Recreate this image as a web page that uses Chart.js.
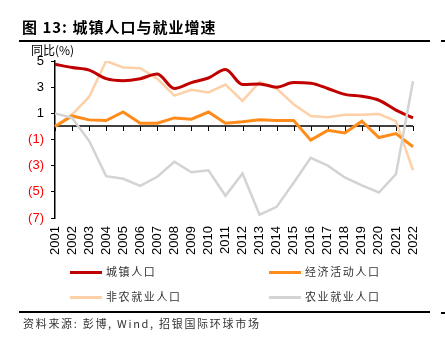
<!DOCTYPE html>
<html>
<head>
<meta charset="utf-8">
<script src="https://cdn.jsdelivr.net/npm/chart.js@4/dist/chart.umd.min.js"></script>
<style>
  html, body { margin: 0; padding: 0; background: #fff; }
  #wrap { position: relative; width: 445px; height: 356px; overflow: hidden; }
  #c { position: absolute; left: 0; top: 0; }
  .t { position: absolute; white-space: nowrap; }
  #title { left: 22px; top: 16px; font: bold 15px "Noto Sans CJK SC", "Liberation Sans", sans-serif; letter-spacing: 1px; color: #000; }
  #unit { left: 31px; top: 41px; font: 12px "Noto Sans CJK SC", sans-serif; color: #000; }
  .rule { position: absolute; background: #000; height: 2px; }
  .leg { position: absolute; height: 3px; width: 32px; }
  .legt { position: absolute; font: 11px "Noto Sans CJK SC", sans-serif; letter-spacing: 1.6px; color: #333; }
  #src { left: 23px; top: 315px; font: 11px "Noto Sans CJK SC", sans-serif; letter-spacing: 1.7px; color: #333; }
</style>
</head>
<body>
<div id="wrap">
  <canvas id="c" width="445" height="356"></canvas>
  <div class="t" id="title">图 13: 城镇人口与就业增速</div>
  <div class="rule" style="left:19px; top:40px; width:411px;"></div>
  <div class="rule" style="left:441px; top:40px; width:4px;"></div>
  <div class="t" id="unit">同比(%)</div>
  <div id="legend"></div>
  <div class="rule" style="left:19px; top:311px; width:411px;"></div>
  <div class="rule" style="left:441px; top:312px; width:4px;"></div>
  <div class="t" id="src">资料来源: 彭博, Wind, 招银国际环球市场</div>
</div>
<script>
const years = ["2001","2002","2003","2004","2005","2006","2007","2008","2009","2010","2011",
               "2012","2013","2014","2015","2016","2017","2018","2019","2020","2021","2022"];
const seriesNames = ["城镇人口", "经济活动人口", "非农就业人口", "农业就业人口"];
const urbanPop = [4.75, 4.5, 4.3, 3.65, 3.5, 3.65, 4.0, 2.9, 3.35, 3.7, 4.35,
                  3.2, 3.25, 3.0, 3.35, 3.3, 2.9, 2.45, 2.3, 2.0, 1.25, 0.65];
const econActive = [0.0, 0.8, 0.5, 0.45, 1.1, 0.25, 0.25, 0.65, 0.55, 1.1, 0.25,
                    0.35, 0.5, 0.45, 0.45, -1.05, -0.3, -0.5, 0.4, -0.85, -0.55, -1.55];
const nonFarm = [0.0, 0.9, 2.25, 5.0, 4.5, 4.45, 3.65, 2.35, 2.8, 2.6, 3.2,
                 1.95, 3.4, 2.9, 1.7, 0.8, 0.7, 0.9, 0.9, 0.95, 0.4, -3.35];
const farm = [1.0, 0.65, -1.1, -3.8, -4.0, -4.55, -3.85, -2.7, -3.5, -3.35, -5.3,
              -3.6, -6.75, -6.15, -4.3, -2.4, -3.0, -3.9, -4.5, -5.05, -3.65, 3.45];
const yTicks = [5, 3, 1, -1, -3, -5, -7];

const colors = ["#C00000", "#FF8C1A", "#FDD0A8", "#D3D3D3"];

// HTML legend
const legPos = [[70, 272], [269, 272], [70, 297], [269, 297]];
const legDiv = document.getElementById('legend');
seriesNames.forEach((n, i) => {
  const l = document.createElement('div');
  l.className = 'leg';
  l.style.left = legPos[i][0] + 'px';
  l.style.top = (legPos[i][1] - 1) + 'px';
  l.style.background = colors[i];
  legDiv.appendChild(l);
  const t = document.createElement('div');
  t.className = 'legt';
  t.textContent = n;
  t.style.left = (legPos[i][0] + 36) + 'px';
  t.style.top = (legPos[i][1] - 9) + 'px';
  legDiv.appendChild(t);
});

const zeroAxis = {
  id: 'zeroAxis',
  beforeDatasetsDraw(chart) {
    const {ctx, chartArea, scales} = chart;
    const y0 = Math.round(scales.y.getPixelForValue(0));
    ctx.save();
    ctx.strokeStyle = '#000';
    ctx.lineWidth = 1.5;
    ctx.beginPath();
    ctx.moveTo(chartArea.left, y0);
    ctx.lineTo(chartArea.right, y0);
    ctx.stroke();
    ctx.lineWidth = 1;
    ctx.beginPath();
    years.forEach((y, i) => {
      const x = Math.round(scales.x.getPixelForValue(i)) + 0.5;
      ctx.moveTo(x, y0);
      ctx.lineTo(x, y0 + 5);
    });
    ctx.stroke();
    ctx.restore();
  }
};

const mk = (i, data, w, extra) => Object.assign({
  label: seriesNames[i], data, borderColor: colors[i], backgroundColor: colors[i],
  borderWidth: w, pointRadius: 0, tension: 0, fill: false
}, extra || {});

new Chart(document.getElementById('c'), {
  type: 'line',
  data: {
    labels: years,
    datasets: [
      mk(0, urbanPop, 3, {cubicInterpolationMode: 'monotone', order: 2}),
      mk(1, econActive, 3, {order: 3}),
      mk(2, nonFarm, 2.5, {order: 4}),
      mk(3, farm, 2.5, {order: 1})
    ]
  },
  options: {
    responsive: false,
    animation: false,
    devicePixelRatio: 1,
    layout: { padding: { left: 5, right: 32, top: 61, bottom: 0 } },
    plugins: { legend: { display: false }, tooltip: { enabled: false } },
    scales: {
      x: {
        offset: false,
        border: { display: false },
        grid: { display: false, drawTicks: false },
        ticks: {
          autoSkip: false, minRotation: 90, maxRotation: 90, padding: 8,
          color: '#000', font: { family: 'Liberation Sans', size: 13 }
        },
        afterFit(s) { s.height = 138; }
      },
      y: {
        min: -7, max: 5,
        border: { display: true, color: '#000', width: 1.5 },
        grid: { drawOnChartArea: false, drawTicks: true, tickLength: 4, color: '#000' },
        afterBuildTicks(s) { s.ticks = yTicks.map(v => ({ value: v })); },
        ticks: {
          padding: 7,
          font: { family: 'Liberation Sans', size: 13 },
          color: c => (c.tick && c.tick.value < 0) ? '#FF0000' : '#000',
          callback: v => v < 0 ? '(' + (-v) + ')' : String(v)
        },
        afterFit(s) { s.width = 50; }
      }
    }
  },
  plugins: [zeroAxis]
});
</script>
</body>
</html>
